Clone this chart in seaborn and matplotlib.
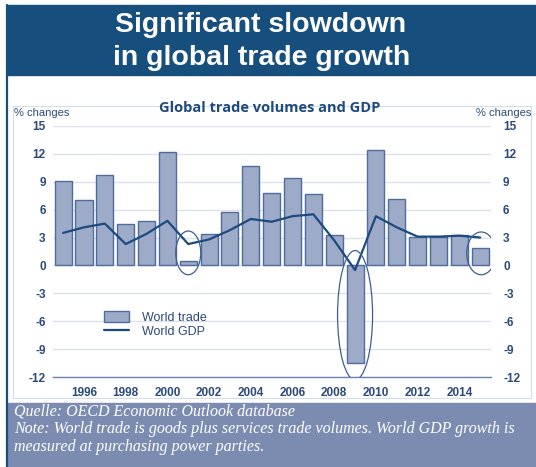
import matplotlib
matplotlib.use('Agg')
import matplotlib.pyplot as plt
from matplotlib.patches import Rectangle, Ellipse
from matplotlib.lines import Line2D
import seaborn as sns
import pandas as pd

# Data
years = list(range(1995, 2016))
world_trade = [9.1, 7.0, 9.7, 4.5, 4.8, 12.2, 0.5, 3.4, 5.8, 10.7, 7.8,
               9.4, 7.7, 3.3, -10.5, 12.4, 7.1, 3.1, 3.1, 3.3, 1.9]
world_gdp = [3.5, 4.1, 4.5, 2.3, 3.4, 4.8, 2.3, 2.8, 3.8, 5.0, 4.7,
             5.3, 5.5, 2.7, -0.5, 5.3, 4.1, 3.1, 3.1, 3.2, 3.0]
y_ticks = [-12, -9, -6, -3, 0, 3, 6, 9, 12, 15]
x_labels = [1996, 1998, 2000, 2002, 2004, 2006, 2008, 2010, 2012, 2014]

df = pd.DataFrame({'year': years, 'trade': world_trade, 'gdp': world_gdp})

dark = '#1C4A7E'
label_col = '#2B4A7A'
bar_fill = '#9DAAC8'
bar_edge = '#4F6C9B'
grid_col = '#DDE2EE'

sns.set_style('white')
plt.rcParams['font.family'] = ['Liberation Sans', 'DejaVu Sans']

W, H = 536, 467
fig = plt.figure(figsize=(W / 100, H / 100), dpi=100)

def px(x0, y0, x1, y1):
    # figure fraction box from pixel corners (top-left origin)
    return [x0 / W, 1 - y1 / H, (x1 - x0) / W, (y1 - y0) / H]

# frame and bands
fig.patches.append(Rectangle((7 / W, 1 - 75 / H), 1, 70 / H, transform=fig.transFigure,
                             color='#164E7D', zorder=0))
fig.patches.append(Rectangle((7 / W, 0), 1, 64 / H, transform=fig.transFigure,
                             color='#7C8CB1', zorder=0))
fig.patches.append(Rectangle((13 / W, 1 - 398 / H), 518 / W, 292 / H, transform=fig.transFigure,
                             fill=False, ec='#D6DCE8', lw=0.8, zorder=0))
fig.lines.append(Line2D([7 / W, 7 / W], [0, 1 - 5 / H], transform=fig.transFigure,
                        color='#164E7D', lw=1.6))

ax = fig.add_axes(px(52.7, 126, 490.6, 377))

sns.barplot(data=df, x='year', y='trade', native_scale=True, width=0.82,
            color=bar_fill, edgecolor=bar_edge, linewidth=1.0, saturation=1,
            label='World trade', ax=ax, zorder=2)
sns.lineplot(data=df, x='year', y='gdp', color=dark, linewidth=1.6,
             label='World GDP', ax=ax, zorder=3)

ax.set_xlim(1994.5, 2015.5)
ax.set_ylim(-12, 15)
ax.set_yticks(y_ticks)
ax.set_yticklabels([str(t) for t in y_ticks])
ax.set_xticks(x_labels)
ax.set_xticklabels([str(t) for t in x_labels])
ax.set_xticks([y + 0.5 for y in range(1994, 2016)], minor=True)
ax.tick_params(axis='x', which='major', length=0, pad=7, labelsize=8.5, labelcolor=label_col)
ax.tick_params(axis='x', which='minor', length=4, width=0.8, color='#6A84AE', direction='out')
ax.tick_params(axis='y', length=0, pad=5, labelsize=8.5, labelcolor=label_col)
for lab in ax.get_xticklabels() + ax.get_yticklabels():
    lab.set_fontweight('bold')
ax.set_xlabel('')
ax.set_ylabel('')
ax.grid(axis='y', color=grid_col, lw=1.0, zorder=0)
ax.set_axisbelow(True)
for s in ['left', 'right', 'top']:
    ax.spines[s].set_visible(False)
ax.spines['bottom'].set_color('#6A84AE')
ax.spines['bottom'].set_linewidth(1.0)

# right axis mirror
ax2 = ax.twinx()
ax2.set_ylim(-12, 15)
ax2.set_yticks(y_ticks)
ax2.set_yticklabels([str(t) for t in y_ticks])
ax2.tick_params(axis='y', length=0, pad=9, labelsize=8.5, labelcolor=label_col)
for lab in ax2.get_yticklabels():
    lab.set_fontweight('bold')
for s in ax2.spines.values():
    s.set_visible(False)

# highlight ellipses
for (cx, cy, w, h) in [(2001, 1.35, 1.2, 4.7), (2009, -5.35, 1.68, 13.9), (2015.05, 1.3, 1.39, 4.6)]:
    ax.add_patch(Ellipse((cx, cy), w, h, fill=False, ec='#3D5E92', lw=0.9, zorder=4))

# legend (bars first)
handles, labels = ax.get_legend_handles_labels()
order = [labels.index('World trade'), labels.index('World GDP')]
leg = ax.legend([handles[i] for i in order], [labels[i] for i in order], loc='upper left',
                bbox_to_anchor=(93 / W, 1 - 300 / H),
                bbox_transform=fig.transFigure, frameon=False, fontsize=9,
                handlelength=2.0, handleheight=0.9, handletextpad=1.0, labelspacing=0.15)
for t in leg.get_texts():
    t.set_color(label_col)

# texts
fig.text(261 / W, 1 - 32 / H, 'Significant slowdown', ha='center', va='baseline',
         color='white', fontsize=20.5, fontweight='bold')
fig.text(262 / W, 1 - 65 / H, 'in global trade growth', ha='center', va='baseline',
         color='white', fontsize=20.5, fontweight='bold')
fig.text(270 / W, 1 - 108 / H, 'Global trade volumes and GDP', ha='center', va='center',
         color='#1E4A7C', fontsize=10.5, fontweight='bold', family=['Open Sans', 'DejaVu Sans'])
fig.text(14 / W, 1 - 113 / H, '% changes', ha='left', va='center', color=label_col, fontsize=8)
fig.text(531 / W, 1 - 113 / H, '% changes', ha='right', va='center', color=label_col, fontsize=8)

foot = ('Quelle: OECD Economic Outlook database\n'
        'Note: World trade is goods plus services trade volumes. World GDP growth is\n'
        'measured at purchasing power parties.')
fig.text(14 / W, 1 - 404 / H, foot, ha='left', va='top', color='white', fontsize=11.5,
         style='italic', family=['Liberation Serif', 'DejaVu Serif'], linespacing=1.12)

fig.savefig('out.png', dpi=100)
